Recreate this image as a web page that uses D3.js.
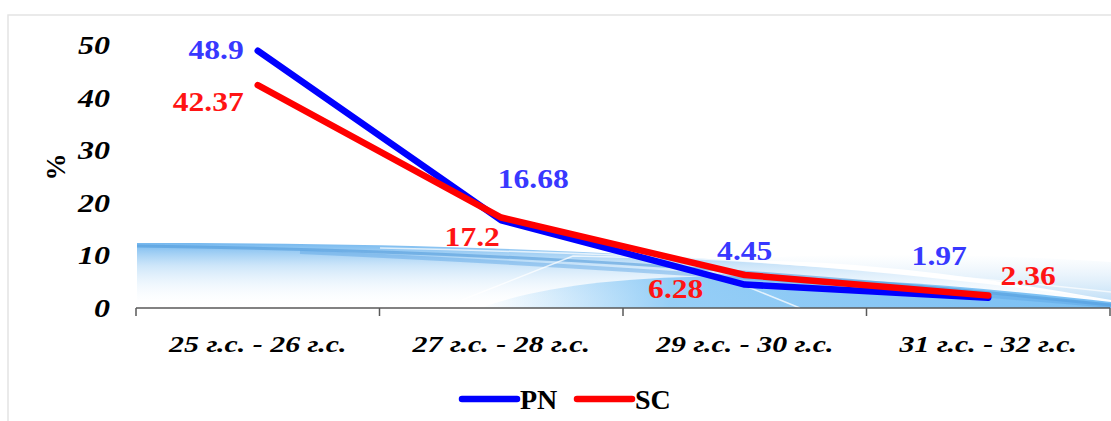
<!DOCTYPE html>
<html>
<head>
<meta charset="utf-8">
<script src="https://cdn.jsdelivr.net/npm/d3@7"></script>
<style>
  html, body { margin: 0; padding: 0; background: #ffffff; }
  svg { display: block; }
</style>
</head>
<body>
<svg id="chart" width="1111" height="421"></svg>
<script>
// ---- data ----
const categories = ["25 г.с. - 26 г.с.", "27 г.с. - 28 г.с.", "29 г.с. - 30 г.с.", "31 г.с. - 32 г.с."];
const pnValues = [48.9, 16.68, 4.45, 1.97];
const scValues = [42.37, 17.2, 6.28, 2.36];
const pnLabels = ["48.9", "16.68", "4.45", "1.97"];
const scLabels = ["42.37", "17.2", "6.28", "2.36"];
const yTicks = [0, 10, 20, 30, 40, 50];
const seriesNames = ["PN", "SC"];

// ---- layout / style ----
const W = 1111, H = 421;
const plot = { left: 136, right: 1110, top: 45, bottom: 308 };
const lineColors = ["#0000ff", "#ff0000"];
const labelColors = ["#3838ff", "#ff1414"];
// label offsets relative to each point [dx, dy, anchor]
const pnLabelPos = [[-14, 8, "end"], [32, -32, "middle"], [0, -25, "middle"], [-49, -33, "middle"]];
const scLabelPos = [[-14, 26, "end"], [-29, 28, "middle"], [-69, 23, "middle"], [40, -11, "middle"]];

const svg = d3.select("#chart");
const defs = svg.append("defs");

const x = d3.scaleBand().domain(categories).range([plot.left, plot.right]);
const y = d3.scaleLinear().domain([0, 50]).range([plot.bottom, plot.top]);
const cx = c => x(c) + x.bandwidth() / 2;

// frame
svg.append("rect").attr("x", 8).attr("y", 15).attr("width", W).attr("height", H)
  .attr("fill", "#ffffff").attr("stroke", "#e4e4e4").attr("stroke-width", 1.5);

// ---- decorative wave background ----
const g1 = defs.append("linearGradient").attr("id", "waveV").attr("x1", 0).attr("y1", 0).attr("x2", 0).attr("y2", 1);
g1.append("stop").attr("offset", "0%").attr("stop-color", "#6db4ee").attr("stop-opacity", 0.95);
g1.append("stop").attr("offset", "35%").attr("stop-color", "#9ccdf4").attr("stop-opacity", 0.5);
g1.append("stop").attr("offset", "100%").attr("stop-color", "#ffffff").attr("stop-opacity", 0);

const g2 = defs.append("linearGradient").attr("id", "waveH").attr("x1", 0).attr("y1", 0).attr("x2", 1).attr("y2", 0);
g2.append("stop").attr("offset", "0%").attr("stop-color", "#8ecbf6").attr("stop-opacity", 0.0);
g2.append("stop").attr("offset", "30%").attr("stop-color", "#84c6f5").attr("stop-opacity", 0.85);
g2.append("stop").attr("offset", "100%").attr("stop-color", "#78bef3").attr("stop-opacity", 1);

const g3 = defs.append("linearGradient").attr("id", "texture").attr("x1", 0).attr("y1", 0).attr("x2", 0).attr("y2", 1);
g3.append("stop").attr("offset", "0%").attr("stop-color", "#cfe6f8").attr("stop-opacity", 0);
g3.append("stop").attr("offset", "100%").attr("stop-color", "#b5d9f5").attr("stop-opacity", 0.8);

const wave = svg.append("g");
// faint texture above the right part
wave.append("path")
  .attr("d", "M700,262 C820,252 960,252 1111,262 L1111,300 C900,262 780,258 700,262 Z")
  .attr("fill", "url(#texture)");
// base band
wave.append("path")
  .attr("d", "M137,243 C420,243 760,250 1111,300 L1111,308 L137,308 Z")
  .attr("fill", "url(#waveV)");
// right solid part
wave.append("path")
  .attr("d", "M480,308 C580,272 760,262 1111,302 L1111,308 Z")
  .attr("fill", "url(#waveH)");
// darker stripe
wave.append("path")
  .attr("d", "M137,246 C420,250 700,262 1111,305")
  .attr("fill", "none").attr("stroke", "#4d97d8").attr("stroke-width", 3).attr("stroke-opacity", 0.55);
wave.append("path")
  .attr("d", "M300,252 C520,262 760,276 1111,306")
  .attr("fill", "none").attr("stroke", "#5aa5e4").attr("stroke-width", 4).attr("stroke-opacity", 0.45);
// light streaks
wave.append("path")
  .attr("d", "M380,248 C560,252 800,258 1111,292")
  .attr("fill", "none").attr("stroke", "#ffffff").attr("stroke-width", 1.5).attr("stroke-opacity", 0.7);
wave.append("path")
  .attr("d", "M462,300 L573,256 L660,258")
  .attr("fill", "none").attr("stroke", "#ffffff").attr("stroke-width", 1.5).attr("stroke-opacity", 0.75);
wave.append("path")
  .attr("d", "M743,285 L800,308")
  .attr("fill", "none").attr("stroke", "#ffffff").attr("stroke-width", 1.5).attr("stroke-opacity", 0.75);

// ---- stretched text helper ----
function stext(parent, px, py, str, o) {
  const gg = parent.append("g").attr("transform", `translate(${px},${py}) scale(${o.sx || 1},1)`);
  return gg.append("text")
    .attr("x", 0).attr("y", 0)
    .attr("text-anchor", o.anchor || "start")
    .attr("dominant-baseline", o.baseline || "alphabetic")
    .attr("font-family", "'Liberation Serif', 'Times New Roman', serif")
    .attr("font-weight", "bold")
    .attr("font-style", o.italic ? "italic" : "normal")
    .attr("font-size", o.size)
    .attr("fill", o.color || "#000")
    .text(str);
}

// ---- x axis ----
const xAxisG = svg.append("g").attr("transform", `translate(0,${plot.bottom})`)
  .call(d3.axisBottom(x).tickSize(0).tickFormat(""));
xAxisG.select(".domain").attr("stroke", "#595959").attr("stroke-width", 1.5)
  .attr("d", `M${plot.left},0H${plot.right}`);
const bounds = [plot.left].concat(categories.map(c => x(c) + x.bandwidth()));
svg.append("g").selectAll("line").data(bounds).join("line")
  .attr("x1", d => d).attr("x2", d => d)
  .attr("y1", plot.bottom).attr("y2", plot.bottom + 8)
  .attr("stroke", "#595959").attr("stroke-width", 1.5);

const xl = svg.append("g");
categories.forEach(c => stext(xl, cx(c), 352, c, { size: 23, italic: true, anchor: "middle", sx: 1.3 }));

// ---- y axis labels ----
const yl = svg.append("g");
yTicks.forEach(t => stext(yl, 110, y(t) + 9, String(t), { size: 25, italic: true, anchor: "end", sx: 1.28 }));

// y title
svg.append("text")
  .attr("transform", "translate(65,167) rotate(-90)")
  .attr("text-anchor", "middle")
  .attr("font-family", "'Liberation Serif', 'Times New Roman', serif")
  .attr("font-weight", "bold").attr("font-size", 27)
  .text("%");

// ---- lines ----
const line = d3.line().x((d, i) => cx(categories[i])).y(d => y(d));
[pnValues, scValues].forEach((vals, si) => {
  svg.append("path").datum(vals)
    .attr("d", line)
    .attr("fill", "none")
    .attr("stroke", lineColors[si])
    .attr("stroke-width", 6.5)
    .attr("stroke-linecap", "round")
    .attr("stroke-linejoin", "round");
});

// ---- data labels ----
const dl = svg.append("g");
[[pnValues, pnLabels, pnLabelPos], [scValues, scLabels, scLabelPos]].forEach(([vals, labs, pos], si) => {
  vals.forEach((v, i) => {
    const p = pos[i];
    stext(dl, cx(categories[i]) + p[0], y(v) + p[1], labs[i],
      { size: 27, anchor: p[2], sx: 1.17, color: labelColors[si] });
  });
});

// ---- legend ----
const lg = svg.append("g");
const legendX = [462, 577];
seriesNames.forEach((n, i) => {
  lg.append("line")
    .attr("x1", legendX[i]).attr("x2", legendX[i] + 55)
    .attr("y1", 399).attr("y2", 399)
    .attr("stroke", lineColors[i]).attr("stroke-width", 6.5).attr("stroke-linecap", "round");
  stext(lg, legendX[i] + 58, 409, n, { size: 28, sx: 1.0 });
});
</script>
</body>
</html>
